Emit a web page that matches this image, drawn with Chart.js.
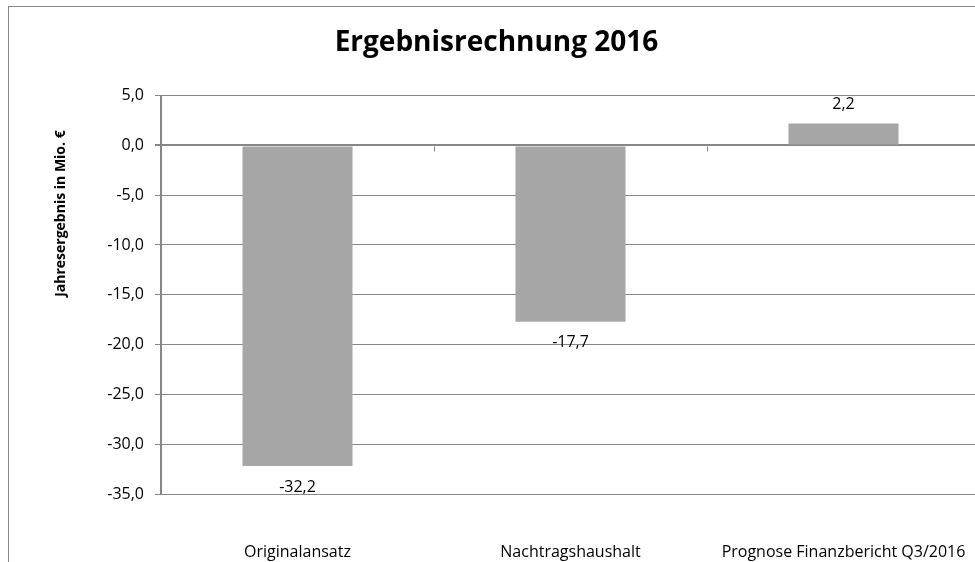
<!DOCTYPE html>
<html>
<head>
<meta charset="utf-8">
<script src="https://cdn.jsdelivr.net/npm/chart.js@4"></script>
<style>
  html, body { margin: 0; padding: 0; background: #fff; overflow: hidden; }
  /* chart frame: only left and top edges are visible in the window */
  #frame { position: absolute; left: 8px; top: 6px; width: 1200px; height: 800px;
           border-left: 1px solid #878787; border-top: 1px solid #878787; }
  #wrap { position: absolute; left: 0; top: 0; width: 980px; height: 562px; }
</style>
</head>
<body>
<div id="frame"></div>
<div id="wrap"><canvas id="chart"></canvas></div>
<script>
// chart data
const categories = ["Originalansatz", "Nachtragshaushalt", "Prognose Finanzbericht Q3/2016"];
const results = [-32.2, -17.7, 2.2];

// y axis range
const yMin = -35;
const yMax = 5;
const yStep = 5;

const gridGray = "#878787";
const font = "'Open Sans', sans-serif";

// german number format, one decimal
function fmt(v) {
  return v.toFixed(1).replace(".", ",");
}

// draws the value next to the end of each bar
const valueLabels = {
  id: "valueLabels",
  afterDatasetsDraw(chart) {
    const ctx = chart.ctx;
    const meta = chart.getDatasetMeta(0);
    ctx.save();
    ctx.font = "16px " + font;
    ctx.fillStyle = "#000";
    ctx.textAlign = "center";
    ctx.textBaseline = "middle";
    meta.data.forEach((bar, i) => {
      const v = results[i];
      const y = v < 0 ? bar.y + 21 : bar.y - 19;
      ctx.fillText(fmt(v), bar.x, y);
    });
    ctx.restore();
  },
};

// small tick marks under the zero line between the categories
const zeroTicks = {
  id: "zeroTicks",
  afterDatasetsDraw(chart) {
    const ctx = chart.ctx;
    const xs = chart.scales.x;
    const y0 = chart.scales.y.getPixelForValue(0);
    ctx.save();
    ctx.strokeStyle = gridGray;
    ctx.lineWidth = 1;
    for (let i = 1; i < categories.length; i++) {
      const x = Math.round((xs.getPixelForValue(i - 1) + xs.getPixelForValue(i)) / 2) + 0.5;
      ctx.beginPath();
      ctx.moveTo(x, y0 + 1);
      ctx.lineTo(x, y0 + 6);
      ctx.stroke();
    }
    ctx.restore();
  },
};

// y axis title, sits higher than the axis middle like in the original
const yTitle = {
  id: "yTitle",
  afterDraw(chart) {
    const ctx = chart.ctx;
    ctx.save();
    ctx.translate(61, chart.chartArea.top + 118);
    ctx.rotate(-Math.PI / 2);
    ctx.font = "bold 14px " + font;
    ctx.fillStyle = "#000";
    ctx.textAlign = "center";
    ctx.textBaseline = "middle";
    ctx.fillText("Jahresergebnis in Mio. €", 0, 0);
    ctx.restore();
  },
};

new Chart(document.getElementById("chart"), {
  type: "bar",
  data: {
    labels: categories,
    datasets: [
      {
        label: "Jahresergebnis",
        data: results,
        backgroundColor: "#a6a6a6",
        borderWidth: 0,
        categoryPercentage: 1,
        barPercentage: 0.403,
      },
    ],
  },
  options: {
    responsive: true,
    maintainAspectRatio: false,
    animation: false,
    layout: {
      padding: { left: 13, right: 0, top: 0, bottom: 0 },
    },
    plugins: {
      legend: { display: false },
      tooltip: { enabled: false },
      title: {
        display: true,
        text: "Ergebnisrechnung 2016",
        color: "#000",
        font: { family: font, size: 28, weight: "bold" },
        padding: { top: 26, bottom: 36 },
      },
    },
    scales: {
      x: {
        position: "bottom",
        grid: { display: false, drawTicks: false },
        border: { display: false },
        ticks: {
          color: "#000",
          padding: 49,
          maxRotation: 0,
          autoSkip: false,
          font: { family: font, size: 16 },
        },
        // labels sit far below the plot; keep the axis box tight
        afterFit(scale) {
          scale.height = 68;
          scale.paddingLeft = 0;
          scale.paddingRight = 0;
        },
      },
      y: {
        min: yMin,
        max: yMax,
        afterFit(scale) {
          scale.width = 148;
        },
        ticks: {
          stepSize: yStep,
          color: "#000",
          padding: 11,
          font: { family: font, size: 16 },
          callback: (v) => fmt(v),
        },
        grid: {
          color: gridGray,
          // zero line is drawn heavier, like the category axis
          lineWidth: (c) => (c.tick && c.tick.value === 0 ? 2 : 1),
          tickLength: 6,
        },
        border: { color: gridGray, width: 2 },
      },
    },
  },
  plugins: [valueLabels, zeroTicks, yTitle],
});
</script>
</body>
</html>
